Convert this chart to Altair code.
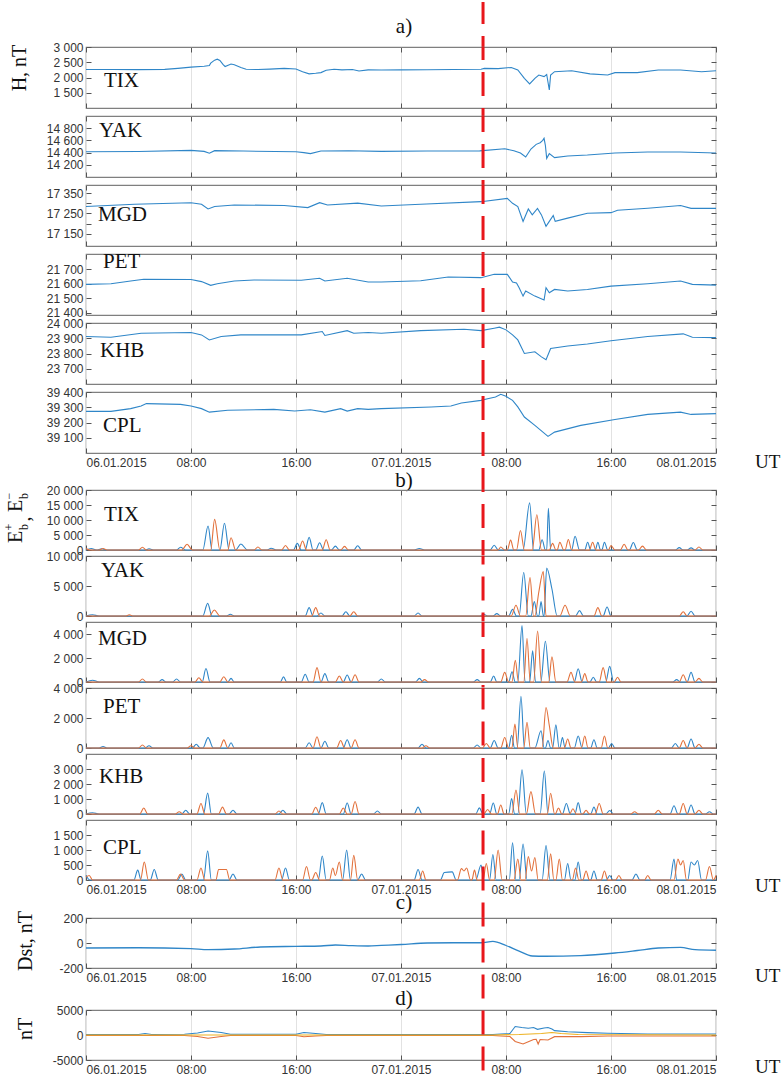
import altair as alt
import pandas as pd

# ---------------- axis / label data ----------------
X_TICKS = [0, 8, 16, 24, 32, 40, 48]
X_LABELS = ["06.01.2015", "08:00", "16:00", "07.01.2015", "08:00", "16:00", "08.01.2015"]
EVENT_HOUR = 30.25
STATIONS = ["TIX", "YAK", "MGD", "PET", "KHB", "CPL"]
SECTION_LABELS = ["a)", "b)", "c)", "d)"]

# ---------------- a) H component, (hour, nT) ----------------
H_TIX = [(0,2262),(2,2262),(4,2258),(6,2265),(7,2300),(8,2340),(9,2370),(9.4,2390),(9.5,2470),(9.8,2570),(10.0,2600),(10.2,2560),(10.45,2420),(10.6,2360),(11.05,2440),(11.3,2420),(11.8,2330),(12.2,2270),(13.1,2262),(14,2275),(15.1,2300),(16.0,2280),(16.5,2190),(17.0,2120),(17.5,2140),(17.9,2160),(18.3,2240),(18.9,2270),(19.5,2250),(20.3,2260),(20.8,2215),(21.5,2250),(22.5,2246),(24,2250),(26,2255),(28,2260),(30.1,2270),(30.35,2300),(31.4,2290),(32.4,2330),(32.9,2250),(33.4,1974),(33.8,1787),(34.2,1974),(34.5,2080),(34.9,2030),(35.1,2100),(35.3,1590),(35.4,2080),(35.7,2190),(37.0,2220),(38.4,2120),(39.75,2080),(40.3,2160),(42.0,2160),(43.6,2246),(45.3,2246),(46.9,2190),(48,2220)]
H_YAK = [(0,14415),(4,14418),(8,14437),(9.0,14420),(9.4,14390),(9.8,14432),(12,14425),(16,14415),(16.6,14400),(17.1,14383),(17.9,14425),(20,14430),(22.5,14420),(26,14425),(30,14428),(31.9,14464),(32.6,14430),(33.1,14393),(33.5,14328),(33.9,14459),(34.3,14535),(34.6,14562),(34.8,14600),(34.9,14634),(35.0,14520),(35.1,14306),(35.3,14383),(35.7,14317),(36.7,14344),(38.2,14360),(40.3,14393),(42.8,14410),(45.3,14410),(48,14393)]
H_MGD = [(0,17284),(3.7,17295),(8,17303),(8.8,17295),(9.3,17272),(9.8,17284),(11.3,17292),(15.1,17289),(16.9,17279),(17.8,17303),(18.4,17292),(20.7,17301),(22.5,17287),(25.5,17295),(30.1,17308),(32.1,17324),(32.5,17300),(32.9,17284),(33.3,17211),(33.7,17272),(34.0,17243),(34.4,17275),(34.7,17243),(35.05,17187),(35.3,17211),(35.6,17240),(35.75,17211),(36.7,17227),(38.2,17251),(40.0,17254),(40.5,17266),(42.8,17276),(45.3,17289),(46.1,17275),(48,17275)]
H_PET = [(0,21596),(1.9,21600),(3.4,21619),(4.4,21631),(8,21629),(8.8,21615),(9.5,21589),(10.0,21600),(11.3,21619),(12.8,21626),(16.4,21624),(17.8,21638),(18.2,21619),(19.9,21638),(21.5,21612),(22.5,21612),(25.5,21621),(27.6,21647),(30.1,21642),(31.1,21665),(32.1,21665),(32.5,21612),(32.8,21605),(33.0,21573),(33.3,21515),(33.5,21550),(34.2,21515),(34.9,21488),(35.05,21573),(35.3,21538),(35.7,21561),(36.7,21550),(38.2,21561),(40.0,21584),(42.8,21600),(45.3,21619),(46.2,21596),(48,21591)]
H_KHB = [(0,23911),(1.9,23907),(4.2,23933),(8,23938),(8.8,23922),(9.4,23889),(10.3,23911),(11.8,23922),(16.4,23922),(18.0,23944),(18.2,23918),(19.9,23950),(20.4,23933),(21.5,23938),(22.5,23933),(25.5,23950),(28.8,23959),(30.1,23950),(31.1,23966),(31.5,23973),(32.0,23955),(32.5,23922),(32.9,23889),(33.4,23800),(34.2,23811),(34.7,23778),(35.05,23760),(35.4,23833),(36.7,23849),(38.2,23862),(40.0,23884),(42.8,23911),(45.5,23929),(46.2,23907),(48,23904)]
H_CPL = [(0,39273),(1.9,39273),(3.4,39291),(4.2,39308),(4.6,39324),(7.2,39319),(8,39308),(8.8,39291),(9.4,39268),(10.8,39280),(14.3,39286),(15.9,39275),(17.1,39284),(18.2,39268),(19.4,39291),(19.9,39275),(20.7,39291),(21.5,39286),(22.5,39291),(26.3,39302),(27.8,39308),(28.6,39328),(30.1,39345),(30.6,39356),(31.2,39367),(31.6,39385),(32.0,39372),(32.5,39345),(32.9,39302),(33.4,39236),(34.2,39181),(35.2,39109),(35.7,39137),(37.7,39181),(40.3,39220),(42.8,39253),(45.3,39268),(46.1,39253),(48,39258)]

# ---------------- b) E_b+ (blue) and E_b- (orange) ----------------
EP_TIX = [(0,0),(0.4,500),(0.8,0),(1.2,400),(1.6,0),(4.5,0),(4.8,400),(5.2,0),(6.9,0),(7.2,900),(7.6,0),(8.9,0),(9.3,8000),(9.6,0),(10.2,0),(10.55,8900),(10.9,0),(11.4,0),(11.8,2000),(12.3,0),(13.8,0),(14.1,600),(14.5,0),(15.8,0),(16.1,2200),(16.4,0),(16.7,0),(17.0,4200),(17.3,0),(17.5,0),(17.8,2400),(18.1,0),(18.7,0),(19.0,1300),(19.3,0),(20.4,0),(20.7,1400),(21.0,0),(25.0,0),(25.4,500),(25.8,0),(30.8,0),(31.1,1600),(31.4,0),(33.3,0),(33.8,15700),(34.1,0),(34.5,0),(34.75,3400),(35.0,0),(35.1,0),(35.23,13900),(35.4,0),(37.0,0),(37.26,4600),(37.6,0),(38.0,0),(38.22,2600),(38.45,0),(38.8,0),(39.0,2600),(39.2,0),(39.3,0),(39.5,2600),(39.75,0),(41.4,0),(41.7,2500),(42.0,0),(44.9,0),(45.2,800),(45.5,0),(45.8,0),(46.1,700),(46.4,0),(48,0)]
EM_TIX = [(0,500),(0.3,0),(1.0,0),(1.3,500),(1.6,0),(4.0,0),(4.3,900),(4.6,0),(7.3,0),(7.7,1900),(8.1,0),(9.5,0),(9.8,10200),(10.2,0),(10.8,0),(11.05,4100),(11.4,0),(12.8,0),(13.1,1000),(13.4,0),(14.9,0),(15.2,1500),(15.5,0),(16.2,0),(16.5,3000),(16.8,0),(18.0,0),(18.3,3400),(18.6,0),(19.4,0),(19.7,1200),(20.0,0),(31.4,0),(31.6,1000),(31.9,0),(32.1,0),(32.35,3300),(32.6,0),(32.8,0),(33.1,6500),(33.4,0),(34.0,0),(34.35,11750),(34.7,0),(35.3,0),(35.55,2200),(35.8,0),(35.9,0),(36.1,2600),(36.4,0),(36.5,0),(36.75,3500),(37.0,0),(38.35,0),(38.6,2600),(38.85,0),(39.8,0),(40.0,1500),(40.3,0),(40.7,0),(41.0,1900),(41.3,0),(42.1,0),(42.4,1300),(42.7,0),(46.4,0),(46.7,1000),(47.0,0),(48,0)]
EP_YAK = [(0,0),(0.5,200),(1,0),(8.9,0),(9.27,2100),(9.6,0),(10.7,0),(11.0,300),(11.3,0),(16.7,0),(17.0,1400),(17.3,0),(17.6,0),(17.9,500),(18.2,0),(19.5,0),(19.8,700),(20.1,0),(25.0,0),(25.3,500),(25.6,0),(30.0,0),(30.3,300),(30.6,0),(31.0,0),(31.3,400),(31.6,0),(32.2,0),(32.5,1100),(32.8,0),(33.0,0),(33.35,7250),(33.7,0),(33.9,0),(34.16,2400),(34.4,0),(34.5,0),(34.67,2400),(34.85,0),(34.9,0),(35.1,8000),(35.5,4500),(35.9,0),(37.3,0),(37.6,900),(37.9,0),(39.4,0),(39.7,1500),(40.0,0),(45.8,0),(46.1,800),(46.4,0),(48,0)]
EM_YAK = [(0,0),(3,0),(3.3,200),(3.6,0),(9.4,0),(9.78,1000),(10.2,0),(17.2,0),(17.5,1400),(17.8,0),(20.1,0),(20.4,700),(20.7,0),(32.4,0),(32.76,1800),(33.1,0),(33.5,0),(33.83,6400),(34.1,0),(34.2,0),(34.5,4000),(34.84,7400),(35.05,0),(36.1,0),(36.5,1800),(36.9,0),(38.7,0),(39.0,1400),(39.3,0),(45.2,0),(45.5,700),(45.8,0),(48,0)]
EP_MGD = [(0,0),(0.5,150),(1,0),(5.5,0),(5.8,200),(6.1,0),(6.6,0),(6.9,250),(7.2,0),(8.85,0),(9.14,1120),(9.45,0),(10.8,0),(11.05,300),(11.3,0),(14.8,0),(15.05,430),(15.3,0),(16.4,0),(16.7,650),(17.0,0),(17.9,0),(18.2,700),(18.5,0),(19.6,0),(19.9,580),(20.2,0),(22.2,0),(22.5,250),(22.8,0),(25.1,0),(25.4,300),(25.7,0),(29.5,0),(29.8,200),(30.1,0),(30.8,0),(31.06,500),(31.3,0),(32.2,0),(32.46,850),(32.7,0),(32.9,0),(33.22,4700),(33.45,0),(33.8,0),(34.03,2600),(34.25,0),(34.65,0),(35.0,3400),(35.35,0),(37.2,0),(37.5,1100),(37.8,0),(38.4,0),(38.65,400),(38.9,0),(39.6,0),(39.9,1300),(40.2,0),(44.7,0),(45.0,200),(45.3,0),(45.8,0),(46.1,800),(46.4,0),(48,0)]
EM_MGD = [(0,0),(4.0,0),(4.3,250),(4.6,0),(8.3,0),(8.6,350),(8.9,0),(10.2,0),(10.5,440),(10.8,0),(17.3,0),(17.6,1200),(17.9,0),(19.0,0),(19.3,500),(19.6,0),(20.2,0),(20.5,600),(20.8,0),(25.5,0),(25.8,200),(26.1,0),(31.6,0),(31.9,800),(32.2,0),(32.45,0),(32.71,1800),(32.95,0),(33.35,0),(33.6,3630),(33.85,0),(34.1,0),(34.41,4250),(34.7,0),(35.25,0),(35.5,2100),(35.8,0),(36.65,0),(36.95,800),(37.25,0),(37.75,0),(38.0,700),(38.25,0),(39.1,0),(39.4,1200),(39.7,0),(40.25,0),(40.5,400),(40.75,0),(45.2,0),(45.5,600),(45.8,0),(46.4,0),(46.7,300),(47.0,0),(48,0)]
EP_PET = [(0,0),(1.0,0),(1.3,100),(1.6,0),(4.5,0),(4.8,150),(5.1,0),(8.1,0),(8.4,250),(8.7,0),(8.9,0),(9.3,690),(9.7,0),(10.8,0),(11.05,350),(11.3,0),(16.7,0),(17.0,350),(17.3,0),(17.9,0),(18.2,450),(18.5,0),(19.6,0),(19.9,550),(20.2,0),(25.3,0),(25.6,250),(25.9,0),(29.5,0),(29.8,200),(30.1,0),(30.8,0),(31.1,500),(31.4,0),(32.2,0),(32.43,850),(32.65,0),(32.85,0),(33.14,3450),(33.4,0),(34.2,0),(34.67,1150),(34.9,0),(35.0,0),(35.2,500),(35.4,0),(35.55,0),(35.8,1540),(36.05,0),(36.1,0),(36.3,700),(36.5,0),(37.2,0),(37.5,800),(37.8,0),(38.45,0),(38.7,550),(38.95,0),(39.8,0),(40.05,300),(40.3,0),(44.6,0),(44.9,300),(45.2,0),(45.8,0),(46.1,600),(46.4,0),(48,0)]
EM_PET = [(0,0),(4.0,0),(4.3,200),(4.6,0),(7.7,0),(8.0,150),(8.3,0),(10.2,0),(10.5,540),(10.8,0),(17.3,0),(17.6,750),(17.9,0),(19.1,0),(19.4,500),(19.7,0),(20.2,0),(20.5,550),(20.8,0),(25.6,0),(25.9,150),(26.2,0),(30.2,0),(30.5,300),(30.8,0),(31.6,0),(31.9,700),(32.2,0),(32.45,0),(32.68,1600),(32.9,0),(33.35,0),(33.6,1720),(33.85,0),(34.75,0),(35.05,2700),(35.3,1500),(35.6,0),(36.45,0),(36.7,600),(36.95,0),(37.75,0),(38.0,800),(38.25,0),(39.25,0),(39.5,800),(39.75,0),(45.2,0),(45.5,500),(45.8,0),(46.4,0),(46.7,250),(47.0,0),(48,0)]
EP_KHB = [(0,0),(0.5,80),(1,0),(7.3,0),(7.6,250),(7.9,0),(8.95,0),(9.27,1390),(9.55,0),(10.9,0),(11.2,250),(11.5,0),(14.7,0),(15.0,250),(15.3,0),(17.7,0),(18.0,760),(18.3,0),(19.6,0),(19.9,730),(20.2,0),(21.9,0),(22.2,200),(22.5,0),(25.0,0),(25.3,460),(25.6,0),(29.7,0),(29.97,410),(30.25,0),(30.75,0),(31.03,730),(31.3,0),(32.2,0),(32.43,1030),(32.65,0),(32.9,0),(33.22,2940),(33.55,0),(34.6,0),(34.92,2870),(35.2,0),(36.3,0),(36.6,700),(36.9,0),(37.25,0),(37.5,760),(37.75,0),(38.45,0),(38.7,460),(38.95,0),(39.6,0),(39.9,230),(40.2,0),(44.5,0),(44.8,550),(45.1,0),(45.8,0),(46.1,600),(46.4,0),(47.2,0),(47.5,150),(47.8,0),(48,0)]
EM_KHB = [(0,0),(4.1,0),(4.4,400),(4.7,0),(6.8,0),(7.1,150),(7.4,0),(8.45,0),(8.76,700),(9.05,0),(10.1,0),(10.4,460),(10.7,0),(14.4,0),(14.7,200),(15.0,0),(17.2,0),(17.5,450),(17.8,0),(19.3,0),(19.6,400),(19.9,0),(20.2,0),(20.5,830),(20.8,0),(30.3,0),(30.6,300),(30.9,0),(31.35,0),(31.6,600),(31.85,0),(32.45,0),(32.76,1600),(33.05,0),(33.55,0),(33.9,1490),(34.25,0),(35.15,0),(35.4,1380),(35.7,0),(35.75,0),(36.0,400),(36.25,0),(36.85,0),(37.1,350),(37.35,0),(37.85,0),(38.1,250),(38.35,0),(38.8,0),(39.1,700),(39.4,0),(41.5,0),(41.8,150),(42.1,0),(43.3,0),(43.6,250),(43.9,0),(45.2,0),(45.5,700),(45.8,0),(46.4,0),(46.7,250),(47.0,0),(48,0)]
EP_CPL = [(0,150),(0.3,0),(3.65,0),(3.94,330),(4.2,0),(4.9,0),(5.2,350),(5.5,0),(7.0,0),(7.3,200),(7.6,0),(8.95,0),(9.27,970),(9.55,0),(10.9,0),(11.2,200),(11.5,0),(14.9,0),(15.2,400),(15.5,0),(17.7,0),(18.0,800),(18.3,0),(19.55,0),(19.86,1000),(20.15,0),(20.7,0),(21.0,200),(21.3,0),(25.0,0),(25.3,350),(25.6,0),(27.0,0),(27.3,250),(27.9,270),(28.2,0),(29.7,0),(30.1,500),(30.3,0),(30.75,0),(31.0,850),(31.25,0),(32.25,0),(32.5,1240),(32.75,0),(33.0,0),(33.3,1200),(33.6,0),(34.75,0),(35.05,1150),(35.35,0),(36.45,0),(36.7,550),(36.95,0),(37.25,0),(37.5,600),(37.75,0),(38.45,0),(38.7,300),(38.95,0),(39.65,0),(39.9,150),(40.15,0),(41.6,0),(41.9,200),(42.2,0),(44.5,0),(44.8,700),(45.0,0),(45.85,0),(46.1,600),(46.35,500),(46.6,650),(46.9,0),(48,0)]
EM_CPL = [(0,100),(0.25,150),(0.5,0),(4.15,0),(4.44,600),(4.75,0),(6.9,0),(7.2,200),(7.5,0),(8.45,0),(8.76,400),(9.05,0),(9.9,0),(10.1,350),(10.7,350),(10.95,0),(14.4,0),(14.7,400),(15.0,0),(16.5,0),(16.8,450),(17.1,0),(17.2,0),(17.5,250),(17.8,0),(18.55,0),(18.8,400),(19.0,150),(19.3,600),(19.55,0),(20.15,0),(20.4,820),(20.7,0),(25.4,0),(25.65,300),(25.9,0),(28.3,0),(28.6,380),(28.8,300),(29.0,400),(29.3,0),(29.4,0),(29.6,330),(29.8,0),(30.25,0),(30.5,550),(30.75,0),(31.1,0),(31.4,1000),(31.7,0),(32.6,0),(32.9,700),(33.15,0),(33.45,0),(33.7,780),(33.95,300),(34.2,750),(34.45,0),(35.15,0),(35.4,870),(35.65,0),(35.8,0),(36.06,700),(36.3,0),(37.05,0),(37.3,400),(37.55,0),(37.85,0),(38.1,300),(38.35,0),(39.25,0),(39.5,300),(39.75,0),(40.35,0),(40.6,150),(40.85,0),(42.55,0),(42.8,150),(43.05,0),(44.8,0),(45.1,700),(45.3,500),(45.5,650),(45.75,0),(47.2,0),(47.5,450),(47.8,0),(48,150)]

# ---------------- c) Dst ----------------
DST = [(0,-40),(4,-38),(8,-45),(9.3,-53),(11.3,-48),(13.3,-32),(16,-27),(17.9,-24),(19,-16),(20.2,-21),(21.5,-24),(22.5,-19),(24,-12),(26,0),(28,2),(30.1,2),(31,13),(32,-20),(33,-65),(34,-104),(35,-106),(37.7,-101),(40.3,-80),(42,-60),(43.6,-40),(45.3,-35),(46.4,-53),(48,-58)]

# ---------------- d) nT ----------------
D_BLUE = [(0,100),(4,100),(4.5,300),(5,100),(7.5,150),(8.5,400),(9.3,800),(10.3,500),(11,150),(16,150),(16.6,500),(17.5,300),(18.3,100),(31,100),(31.6,200),(32.3,300),(32.7,1700),(33.2,1500),(33.7,1350),(34.1,1500),(34.4,1130),(34.9,1400),(35.2,1500),(35.5,1200),(35.7,870),(36.7,650),(38.2,470),(39.75,350),(42.8,200),(48,200)]
D_ORANGE = [(0,-100),(7.5,-100),(8.5,-300),(9.3,-650),(10.3,-300),(11,-100),(16,-100),(16.6,-350),(17.5,-200),(18.3,-100),(31,-100),(31.6,-200),(32.3,-300),(32.7,-1300),(33.3,-1800),(33.7,-1330),(34.1,-900),(34.3,-870),(34.45,-1800),(34.6,-900),(35.2,-1000),(35.7,-330),(37.7,-330),(39.75,-200),(48,-200)]
D_YELLOW = [(0,0),(31,0),(33,100),(34.7,300),(35.5,500),(36.2,300),(37.5,100),(48,0)]

# ---------------- styling ----------------
W = 630
BLUE, ORANGE, YELLOW, RED = "#2F86C8", "#E2713C", "#EDB120", "#E8161B"
SERIES_NAMES = ["blue", "orange", "yellow"]
SERIES_COLORS = [BLUE, ORANGE, YELLOW]
GRID, TICK, LABC, FRAME = "#e2e2e2", "#555555", "#333333", "#7f7f7f"
SANS, SERIF = "Liberation Sans", "Liberation Serif"
DASH = [24, 12]
PERIOD = sum(DASH)

ONE = pd.DataFrame({"k": [0]})
RULE_DF = pd.DataFrame({"t": [EVENT_HOUR]})
XLAB = " : ".join(f"datum.value == {t} ? '{l}'" for t, l in zip(X_TICKS, X_LABELS)) + " : ''"


def xs():
    return alt.Scale(domain=[0, 48], nice=False, zero=False)


def txt(s, x, y, size=21, align="left", baseline="alphabetic", angle=0, color="#111111"):
    kw = dict(text=s, font=SERIF, fontSize=size, align=align, baseline=baseline, color=color)
    if angle:
        kw["angle"] = angle
    return alt.Chart(ONE).mark_text(**kw).encode(x=alt.value(x), y=alt.value(y))


def red_rule(h, top, start=0):
    return alt.Chart(RULE_DF).mark_rule(
        color=RED, strokeWidth=3, strokeDash=DASH, strokeDashOffset=(top + start) % PERIOD
    ).encode(x=alt.X("t:Q", scale=xs(), axis=None), y=alt.value(start), y2=alt.value(h))


def panel(series, y_dom, y_ticks, y_labeled, fmt, h, show_x, texts, top, interp="linear", sw=1.1):
    rows = []
    for name, pts in series:
        for t, v in pts:
            rows.append({"t": t, "v": v, "s": name})
    df = pd.DataFrame(rows)
    ys = alt.Scale(domain=y_dom, nice=False, zero=False)
    if fmt == "space":
        lab = f"indexof({y_labeled}, datum.value) >= 0 ? replace(format(datum.value, ','), ',', ' ') : ''"
    else:
        lab = "'' + datum.value"
    x_axis = alt.Axis(orient="bottom", values=X_TICKS, labels=show_x, labelExpr=XLAB, grid=True,
                      gridColor=GRID, gridWidth=1, domain=False, tickSize=5, offset=-5,
                      tickColor=TICK, labelPadding=4, labelFontSize=12, labelColor=LABC,
                      labelFont=SANS, title=None)
    y_axis = alt.Axis(orient="left", values=y_ticks, labelExpr=lab, grid=False, domain=False,
                      tickSize=5, offset=-5, tickColor=TICK, labelPadding=3, labelFontSize=12,
                      labelColor=LABC, labelFont=SANS, title=None)
    x_axis2 = alt.Axis(orient="top", values=X_TICKS, labels=False, grid=False, domain=False,
                       tickSize=5, offset=-5, tickColor=TICK, title=None)
    y_axis2 = alt.Axis(orient="right", values=y_ticks, labels=False, grid=False, domain=False,
                       tickSize=5, offset=-5, tickColor=TICK, title=None)
    lines = alt.Chart(df).mark_line(strokeWidth=sw, interpolate=interp).encode(
        x=alt.X("t:Q", scale=xs(), axis=x_axis),
        y=alt.Y("v:Q", scale=ys, axis=y_axis),
        color=alt.Color("s:N", scale=alt.Scale(domain=SERIES_NAMES, range=SERIES_COLORS), legend=None),
    )
    dummy = alt.Chart(df).mark_line(opacity=0).encode(
        x=alt.X("t:Q", scale=xs(), axis=x_axis2),
        y=alt.Y("v:Q", scale=ys, axis=y_axis2),
    )
    layers = [lines, dummy] + texts + [red_rule(h, top)]
    return alt.layer(*layers).resolve_axis(x="independent", y="independent").properties(
        width=W, height=h, view=alt.ViewBackground(stroke=FRAME, strokeWidth=1.2))


def spacer(h, top, texts, start=0):
    layers = [red_rule(h, top, start)] + texts
    return alt.layer(*layers).properties(width=W, height=h, view=alt.ViewBackground(strokeOpacity=0))


items = []
top = 0


def add(chart, h):
    global top
    items.append(chart)
    top += h


# ---- top spacer with "a)" and left anchor
anchor = alt.Chart(ONE).mark_rule(color="white", strokeWidth=1).encode(
    x=alt.value(-85), y=alt.value(1), y2=alt.value(3))
add(spacer(47, top, [anchor, txt(SECTION_LABELS[0], 318, 33, align="center")], start=2), 47)

# ---- section a
A_H = [H_TIX, H_YAK, H_MGD, H_PET, H_KHB, H_CPL]
A_DOM = [[1000, 3000], [14000, 15000], [17090, 17390], [21385, 21805], [23600, 24000], [39000, 39400]]
A_TICKS = [[1500, 2000, 2500, 3000], [14200, 14400, 14600, 14800],
           [17150, 17200, 17250, 17300, 17350], [21400, 21500, 21600, 21700],
           [23700, 23800, 23900, 24000], [39100, 39200, 39300, 39400]]
A_LAB = [[1500, 2000, 2500, 3000], [14200, 14400, 14600, 14800], [17150, 17250, 17350],
         [21400, 21500, 21600, 21700], [23700, 23800, 23900, 24000], [39100, 39200, 39300, 39400]]
A_ST = [(18, 40), (13, 21), (12, 36), (17, 14), (14, 34), (17, 40)]
for i in range(6):
    texts = [txt(STATIONS[i], A_ST[i][0], A_ST[i][1])]
    if i == 0:
        texts.append(txt("H, nT", -66, 21, size=20, align="center", baseline="middle", angle=270))
    add(panel([("blue", A_H[i])], A_DOM[i], A_TICKS[i], A_LAB[i], "space", 61, i == 5, texts, top), 61)
    if i < 5:
        add(spacer(8, top, []), 8)

add(spacer(37, top, [txt(SECTION_LABELS[1], 318, 34, align="center"), txt("UT", 669, 15, size=19)]), 37)

# ---- section b
B_P = [EP_TIX, EP_YAK, EP_MGD, EP_PET, EP_KHB, EP_CPL]
B_M = [EM_TIX, EM_YAK, EM_MGD, EM_PET, EM_KHB, EM_CPL]
B_DOM = [[0, 20000], [0, 10000], [0, 5000], [0, 4000], [0, 4000], [0, 2000]]
B_TICKS = [[0, 5000, 10000, 15000, 20000], [0, 5000, 10000], [0, 2000, 4000], [0, 2000, 4000],
           [0, 1000, 2000, 3000], [0, 500, 1000, 1500]]
B_ST = [(18, 31), (15, 21), (12, 23), (17, 25), (13, 29), (17, 34)]
for i in range(6):
    texts = [txt(STATIONS[i], B_ST[i][0], B_ST[i][1])]
    if i == 0:
        texts += [
            txt("E", -70, 47, size=20, align="center", baseline="middle", angle=270),
            txt("+", -77, 37, size=12, align="center", baseline="middle", angle=270),
            txt("b", -62, 37, size=12, align="center", baseline="middle", angle=270),
            txt(",", -62, 29, size=20, align="center", baseline="middle", angle=270),
            txt("E", -70, 16, size=20, align="center", baseline="middle", angle=270),
            txt("\u2212", -77, 6, size=12, align="center", baseline="middle", angle=270),
            txt("b", -62, 6, size=12, align="center", baseline="middle", angle=270),
        ]
    add(panel([("blue", B_P[i]), ("orange", B_M[i])], B_DOM[i], B_TICKS[i], B_TICKS[i],
              "space", 60, i == 5, texts, top, interp="monotone"), 60)
    if i < 5:
        add(spacer(5.5, top, []), 5.5)

add(spacer(38, top, [txt(SECTION_LABELS[2], 318, 29, align="center"), txt("UT", 669, 12, size=19)]), 38)

# ---- c) Dst
add(panel([("blue", DST)], [-200, 200], [-200, 0, 200], [-200, 0, 200], "plain", 50, True,
          [txt("Dst, nT", -60, 23, size=20, align="center", baseline="middle", angle=270)], top,
          interp="monotone", sw=1.3), 50)

add(spacer(42, top, [txt(SECTION_LABELS[3], 318, 37, align="center"), txt("UT", 669, 14, size=19)]), 42)

# ---- d) nT
add(panel([("blue", D_BLUE), ("orange", D_ORANGE), ("yellow", D_YELLOW)], [-5000, 5000],
          [-5000, 0, 5000], [-5000, 0, 5000], "plain", 50, True,
          [txt("nT", -60, 19, size=20, align="center", baseline="middle", angle=270)], top), 50)

add(spacer(16, top, [txt("UT", 669, 13, size=19)]), 16)

chart = alt.vconcat(*items, spacing=0, bounds="flush", padding=0).configure(
    font=SANS).configure_view(stroke=FRAME)

chart.save("out.html", embed_options={"renderer": "svg", "actions": False})
